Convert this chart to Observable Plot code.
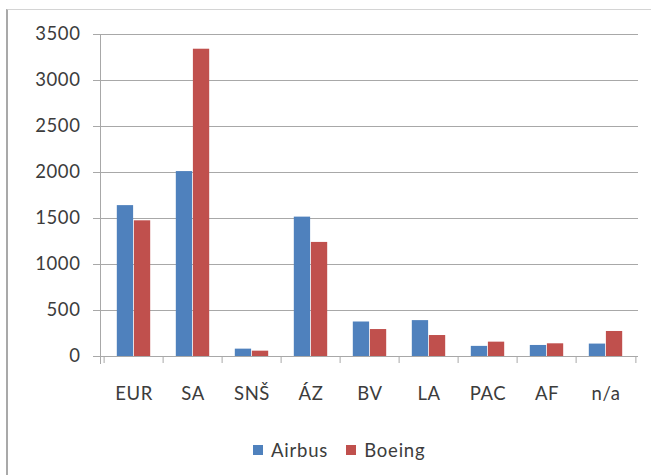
<!DOCTYPE html>
<html><head><meta charset="utf-8">
<script src="https://cdn.jsdelivr.net/npm/d3@7"></script>
<script src="https://cdn.jsdelivr.net/npm/@observablehq/plot@0.6"></script>
<style>
body{margin:0;background:#fff;}
#wrap{position:relative;width:651px;height:475px;overflow:hidden;font-family:Lato,sans-serif;background:#fff;}
#frame{position:absolute;left:6px;top:9px;right:-3px;bottom:-3px;border-left:2px solid #a9a9a9;border-top:1px solid #d4d4d4;}
#chart{position:absolute;left:0;top:0;}
#legend{position:absolute;top:439px;left:253px;display:flex;align-items:center;font-size:18.5px;letter-spacing:0.8px;color:#3c3c3c;}
#legend .sw{display:inline-block;width:10px;height:10px;margin-right:8px;}
#legend .item{display:flex;align-items:center;margin-right:18px;}
</style>
</head><body>
<div id="wrap"><div id="frame"></div><div id="chart"></div><div id="legend"></div></div>
<script>
const regions = ["EUR","SA","SNŠ","ÁZ","BV","LA","PAC","AF","n/a"];
const airbus = [1640,2010,80,1515,375,390,110,120,135];
const boeing = [1475,3340,58,1240,293,228,156,138,272];
const series = ["Airbus","Boeing"];
const colors = ["#4f81bd","#c0504d"];
const yTicks = [0,500,1000,1500,2000,2500,3000,3500];

const data = [];
regions.forEach((r,i)=>{
  data.push({region:r, series:series[0], value:airbus[i]});
  data.push({region:r, series:series[1], value:boeing[i]});
});

const W = 651, mL = 100, mR = 13;
const bw = (W - mL - mR) / regions.length;
const barW = bw / 3.5;
const outer = barW * 0.75;
const gridColor = "#a8a8a8";

const chart = Plot.plot({
  width: W, height: 425,
  marginLeft: mL, marginRight: mR, marginTop: 34, marginBottom: 69,
  style: {fontFamily: "Lato, sans-serif", fontSize: "18.5px", color: "#3c3c3c", background: "transparent", letterSpacing: "0.6px"},
  x: {domain: regions, padding: 0, axis: null},
  y: {domain: [0, 3500], axis: null},
  color: {domain: series, range: colors},
  marks: [
    Plot.gridY(yTicks, {stroke: gridColor, strokeOpacity: 1}),
    Plot.axisY(yTicks, {tickSize: 7, tickPadding: 13, stroke: gridColor, strokeOpacity: 1, tickFormat: d3.format("d"), label: null}),
    Plot.frame({anchor: "left", stroke: gridColor, strokeOpacity: 1, insetBottom: -7}),
    Plot.ruleY([0], {stroke: gridColor, strokeOpacity: 1}),
    Plot.ruleX(regions, {x: d => d, y1: 0, y2: 0, insetBottom: -7, dx: -bw / 2, stroke: gridColor, strokeOpacity: 1}),
    Plot.ruleX([regions[regions.length - 1]], {x: d => d, y1: 0, y2: 0, insetBottom: -7, dx: bw / 2, stroke: gridColor, strokeOpacity: 1}),
    Plot.barY(data.filter(d => d.series === series[0]), {x: "region", y: "value", fill: "series", insetLeft: outer, insetRight: outer + barW}),
    Plot.barY(data.filter(d => d.series === series[1]), {x: "region", y: "value", fill: "series", insetLeft: outer + barW, insetRight: outer}),
    Plot.axisX({tickSize: 0, tickPadding: 30, label: null})
  ]
});
document.getElementById("chart").appendChild(chart);

const legend = document.getElementById("legend");
series.forEach((s, i) => {
  const item = document.createElement("span");
  item.className = "item";
  const sw = document.createElement("span");
  sw.className = "sw";
  sw.style.background = colors[i];
  item.appendChild(sw);
  item.appendChild(document.createTextNode(s));
  legend.appendChild(item);
});
</script>
</body></html>
